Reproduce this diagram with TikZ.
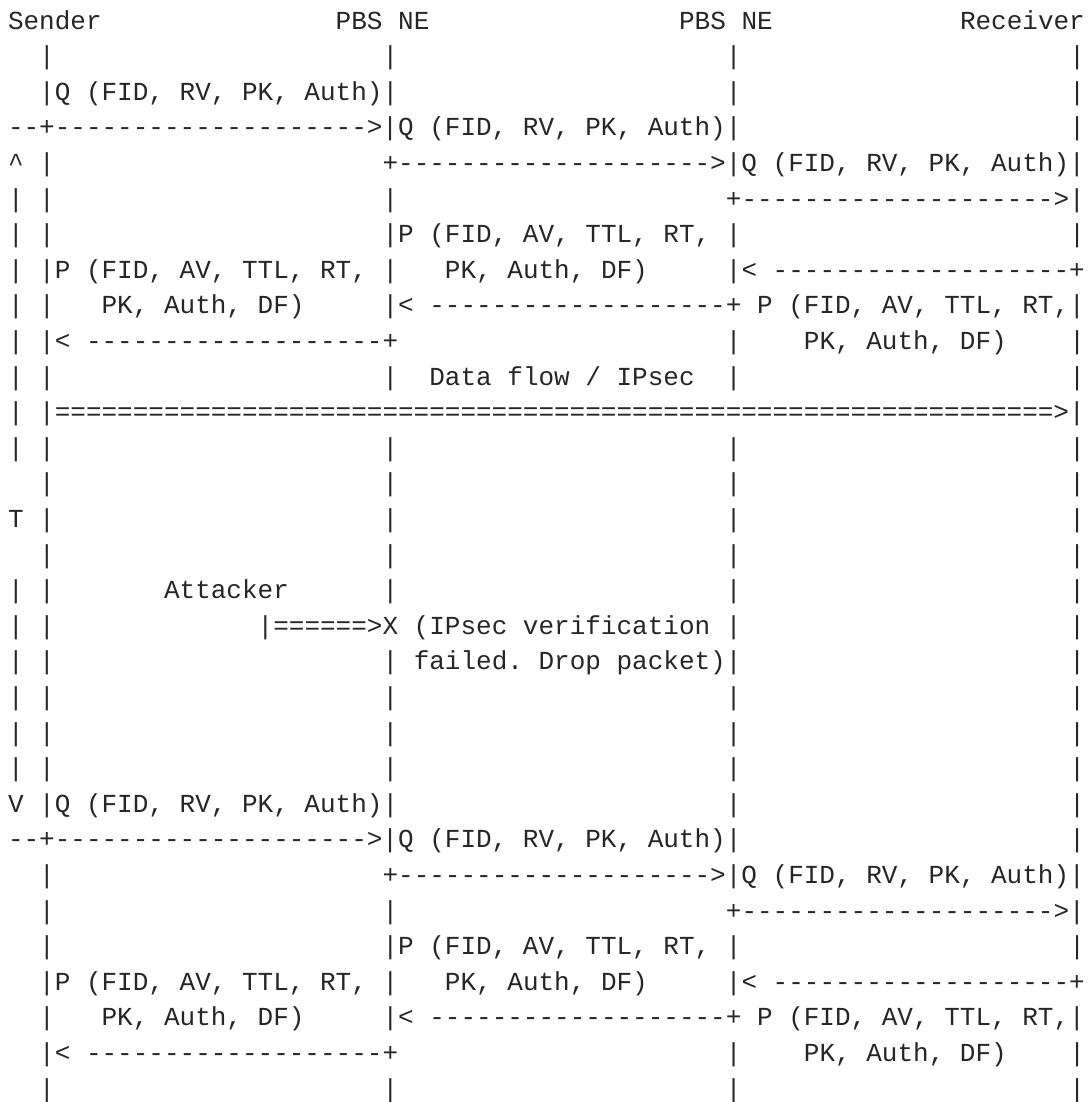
\documentclass[tikz,border=0pt]{standalone}
\usepackage{fontspec}
\setmonofont{Liberation Mono}
\usepackage{tikz}

% n copies of one character
\ExplSyntaxOn
\cs_new:Npn \chrun #1#2 { \prg_replicate:nn {#1} {#2} }
\ExplSyntaxOff

\begin{document}
\begin{tikzpicture}[
    x=6.001pt, y=-13.689pt,
    ascii/.style={anchor=base west, inner sep=0pt, outer sep=0pt, font=\ttfamily\frenchspacing, text=black!85},
]
    \useasboundingbox (0.487,0.185) rectangle (70.14,31.14);

    % Header
    \node (sender) [ascii] at (1,1) {Sender};
    \node (ne1) [ascii] at (22,1) {PBS NE};
    \node (ne2) [ascii] at (44,1) {PBS NE};
    \node (receiver) [ascii] at (62,1) {Receiver};

    % Lifelines (bare bars only)
    \foreach \c/\rows in {1/{6,7,8,9,10,11,12,13,17,18,19,20,21,22},
                          3/{2,5,6,7,9,11,13,14,15,16,17,18,19,20,21,22,25,26,27,29,31},
                          25/{2,6,11,13,14,15,16,17,19,20,21,22,26,31},
                          47/{2,3,10,11,13,14,15,16,17,20,21,22,23,30,31},
                          69/{2,3,4,7,10,11,13,14,15,16,17,18,19,20,21,22,23,24,27,30,31}}
        \foreach \r in \rows
            \node (bar\c-\r) [ascii] at (\c,\r) {|};

    % Timeout marks
    \node (tstart) [ascii] at (1,5) {\textasciicircum};
    \node (tlabel) [ascii] at (1,15) {T};
    \node (tend) [ascii] at (1,23) {V};

    % Query / response exchange, sent twice
    \foreach \o in {0,20} {
        \node (qsend\o) [ascii] at (3,{3+\o}) {|Q (FID, RV, PK, Auth)|};
        \node (qne1\o) [ascii] at (1,{4+\o}) {--+\chrun{20}{-}>|Q (FID, RV, PK, Auth)|};
        \node (qne2\o) [ascii] at (25,{5+\o}) {+\chrun{20}{-}>|Q (FID, RV, PK, Auth)|};
        \node (qrecv\o) [ascii] at (47,{6+\o}) {+\chrun{20}{-}>|};
        \node (pne1a\o) [ascii] at (25,{7+\o}) {|P (FID, AV, TTL, RT, |};
        \node (psenda\o) [ascii] at (3,{8+\o}) {|P (FID, AV, TTL, RT, |};
        \node (pne1b\o) [ascii] at (29,{8+\o}) {PK, Auth, DF)};
        \node (precv\o) [ascii] at (47,{8+\o}) {|< \chrun{19}{-}+};
        \node (psendb\o) [ascii] at (7,{9+\o}) {PK, Auth, DF)};
        \node (pne2a\o) [ascii] at (25,{9+\o}) {|< \chrun{19}{-}+ P (FID, AV, TTL, RT,|};
        \node (pne1\o) [ascii] at (3,{10+\o}) {|< \chrun{19}{-}+};
        \node (pne2b\o) [ascii] at (52,{10+\o}) {PK, Auth, DF)};
    }

    % Data flow
    \node (dataflow) [ascii] at (28,11) {Data flow / IPsec};
    \node (dataline) [ascii] at (3,12) {|\chrun{64}{=}>|};

    % Attacker
    \node (attacker) [ascii] at (11,17) {Attacker};
    \node (attack) [ascii] at (17,18) {|\chrun{6}{=}>X (IPsec verification |};
    \node (drop) [ascii] at (27,19) {failed. Drop packet)|};

\end{tikzpicture}
\end{document}
